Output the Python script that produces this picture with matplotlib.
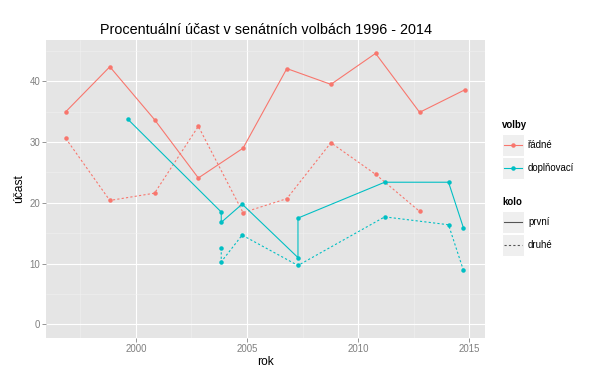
import numpy as np
import matplotlib.pyplot as plt
from matplotlib.lines import Line2D
from matplotlib.patches import Rectangle

plt.rcParams['font.family'] = ['Liberation Sans', 'DejaVu Sans']

# řádné volby (regular elections)
radne_rok = [1996.85, 1998.83, 2000.84, 2002.81, 2004.82, 2006.79, 2008.77, 2010.78, 2012.76, 2014.79]
radne_prvni = [35.0, 42.4, 33.7, 24.1, 29.0, 42.1, 39.5, 44.6, 34.9, 38.6]
radne_druhe_rok = radne_rok[:9]
radne_druhe = [30.6, 20.4, 21.6, 32.6, 18.4, 20.7, 29.9, 24.7, 18.6]

# doplňovací volby (by-elections)
dopl_rok = [1999.63, 2003.84, 2003.84, 2004.78, 2007.29, 2007.29, 2011.19, 2014.06, 2014.73]
dopl_prvni = [33.8, 18.5, 16.8, 19.8, 11.0, 17.5, 23.4, 23.4, 15.9]
dopl_druhe_rok = [2003.84, 2003.84, 2004.78, 2007.29, 2011.19, 2014.06, 2014.73]
dopl_druhe = [12.6, 10.3, 14.7, 9.7, 17.7, 16.4, 8.9]

volby = ['řádné', 'doplňovací']
kolo = ['první', 'druhé']
barvy = ['#F8766D', '#00BFC4']

dpi = 72
fig = plt.figure(figsize=(610 / dpi, 380 / dpi), dpi=dpi)
ax = fig.add_axes([46 / 610, 1 - 338 / 380, 439 / 610, 298 / 380])
ax.set_facecolor('#E5E5E5')

dash = (0, (2, 2))
lw = 1.1
ms = 4.5
series = [
    (radne_rok, radne_prvni, barvy[0], '-'),
    (radne_druhe_rok, radne_druhe, barvy[0], dash),
    (dopl_rok, dopl_prvni, barvy[1], '-'),
    (dopl_druhe_rok, dopl_druhe, barvy[1], dash),
]
for xs, ys, c, ls in series:
    ax.plot(xs, ys, color=c, linestyle=ls, lw=lw, zorder=3)
    ax.plot(xs, ys, 'o', color=c, ms=ms, mew=0, zorder=4)

ax.set_xlim(1995.96, 2015.7)
ax.set_ylim(-2.23, 46.8)
ax.set_xticks([2000, 2005, 2010, 2015])
ax.set_yticks([0, 10, 20, 30, 40])
ax.set_xticks([1997.5, 2002.5, 2007.5, 2012.5], minor=True)
ax.set_yticks([5, 15, 25, 35, 45], minor=True)
ax.grid(True, which='major', color='white', lw=1.1, zorder=1)
ax.grid(True, which='minor', color='#F2F2F2', lw=0.5, zorder=1)
ax.set_axisbelow(True)
for s in ax.spines.values():
    s.set_visible(False)
ax.tick_params(which='major', length=4, width=0.8, color='#7F7F7F',
               labelcolor='#7F7F7F', labelsize=9.6, pad=2)
ax.tick_params(which='minor', length=0)

ax.set_xlabel('rok', fontsize=12, labelpad=2)
ax.set_ylabel('účast', fontsize=12, labelpad=4)
ax.set_title('Procentuální účast v senátních volbách 1996 - 2014', fontsize=14.4, pad=6)

# legend drawn by hand in ggplot style
W, H = 610, 380


def fx(px):
    return px / W


def fy(py):
    return 1 - py / H


def key_box(y0):
    fig.add_artist(Rectangle((fx(502), fy(y0 + 22)), 22 / W, 22 / H,
                             transform=fig.transFigure, facecolor='#EFEFEF',
                             edgecolor='white', lw=1))


fig.text(fx(502), fy(125), 'volby', fontsize=9.6, fontweight='bold', va='center')
for i, (name, c) in enumerate(zip(volby, barvy)):
    y0 = 134 + i * 23
    key_box(y0)
    yc = fy(y0 + 11)
    fig.add_artist(Line2D([fx(504), fx(522)], [yc, yc], color=c, lw=lw,
                          transform=fig.transFigure))
    fig.add_artist(Line2D([fx(513)], [yc], marker='o', color=c, ms=ms, mew=0,
                          transform=fig.transFigure))
    fig.text(fx(528), yc, name, fontsize=9.6, va='center')

fig.text(fx(502), fy(202), 'kolo', fontsize=9.6, fontweight='bold', va='center')
for i, (name, ls) in enumerate(zip(kolo, ['-', dash])):
    y0 = 211 + i * 23
    key_box(y0)
    yc = fy(y0 + 11)
    fig.add_artist(Line2D([fx(504), fx(522)], [yc, yc], color='#555555', lw=lw,
                          linestyle=ls, transform=fig.transFigure))
    fig.text(fx(528), yc, name, fontsize=9.6, va='center')

fig.savefig('out.png', dpi=dpi)
